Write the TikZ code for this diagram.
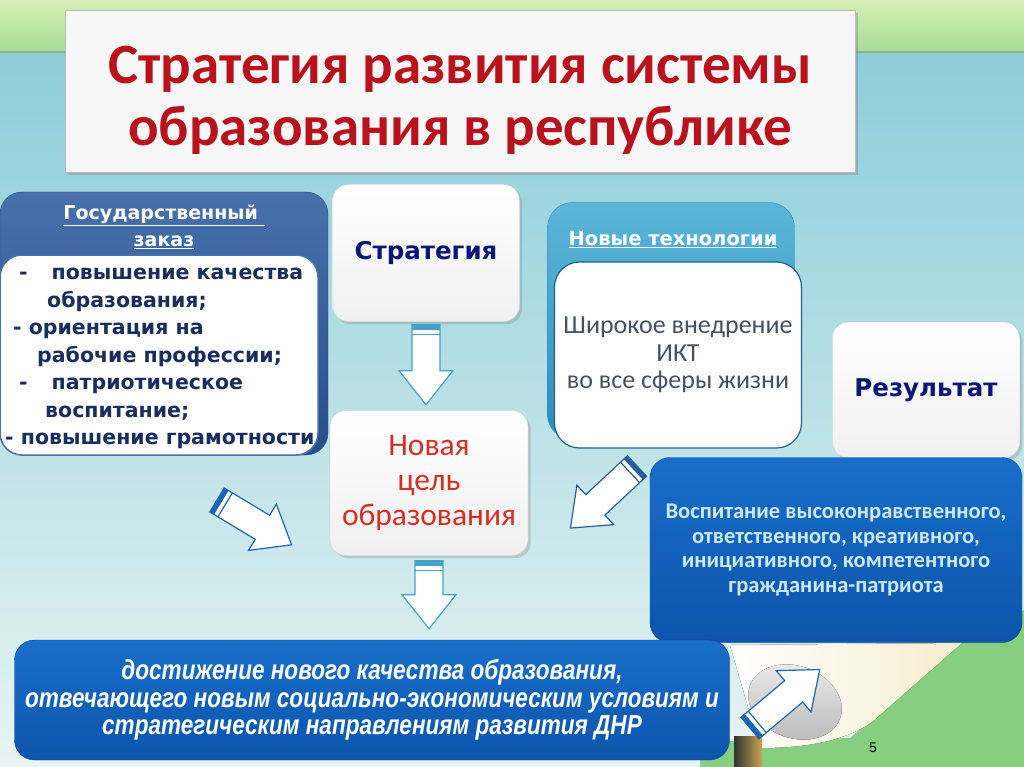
\documentclass[tikz,border=0pt]{standalone}
\usepackage{tikz}
\usepackage{xcolor}
\usepackage{fontspec}
\usetikzlibrary{shadows,positioning}

\setmainfont{DejaVu Sans}
\newfontfamily\calfont{Carlito}
\newfontfamily\narrowfont{Liberation Sans}[FakeStretch=0.82]
\newfontfamily\arfont{Liberation Sans}

\definecolor{titlered}{RGB}{185,18,28}
\definecolor{navy}{RGB}{12,22,120}
\definecolor{listnavy}{RGB}{25,45,95}
\definecolor{goalred}{RGB}{215,45,35}
\definecolor{slate}{RGB}{70,80,100}
\definecolor{paleblue}{RGB}{205,232,246}
\definecolor{boxblue}{RGB}{24,110,200}
\definecolor{boxbluedark}{RGB}{12,84,172}
\definecolor{orderblue}{RGB}{72,112,170}
\definecolor{orderbluedark}{RGB}{40,78,138}
\definecolor{techblue}{RGB}{92,182,216}
\definecolor{techbluedark}{RGB}{45,140,192}
\definecolor{arrowteal}{RGB}{70,160,200}
\definecolor{arrowblue}{RGB}{28,100,178}
\definecolor{skytop}{RGB}{140,205,218}
\definecolor{skybottom}{RGB}{232,244,242}
\definecolor{leaf}{RGB}{134,206,128}
\definecolor{leaflight}{RGB}{214,240,180}
\definecolor{parchment}{RGB}{246,236,205}
\definecolor{rodgold}{RGB}{200,165,80}

\tikzset{
  whitebox/.style={rectangle, rounded corners=16pt, draw=gray!35, top color=white, bottom color=gray!12,
    drop shadow={opacity=0.3}, align=center},
  bluebox/.style={rectangle, rounded corners=20pt, draw=boxbluedark!80!black, top color=boxblue,
    bottom color=boxbluedark, align=center},
  blockarrow/.pic={
    \filldraw[fill=white, line width=1.2pt] (0,-14) -- (#1-34,-14) -- (#1-34,-27) -- (#1,0)
      -- (#1-34,27) -- (#1-34,14) -- (0,14) -- cycle;
    \fill (0,-14) rectangle (5,14);
    \draw[line width=1.2pt] (9.5,-14) -- (9.5,14);
  }
}

\begin{document}
\begin{tikzpicture}[x=1pt,y=-1pt]
  \useasboundingbox (0,0) rectangle (1024,767);

  % background
  \fill[top color=skytop, bottom color=skybottom] (0,50) rectangle (1024,767);
  \fill[top color=leaflight, bottom color=leaf!60!leaflight] (0,0) rectangle (1024,52);
  \draw[leaf!70!black!70, line width=1.5pt] (0,52) -- (1024,52);
  \fill[leaf] (700,767) -- (700,742) -- (850,738) -- (962,643) -- (1024,610) -- (1024,767) -- cycle;
  % rolled paper
  \fill[left color=white, right color=parchment] (730,645) -- (962,643) -- (872,722)
    .. controls (840,745) and (790,748) .. (760,748) -- cycle;
  \fill[top color=gray!15, bottom color=gray!55, rotate around={-20:(795,702)}] (795,702) ellipse (48 and 36);
  \fill[left color=black!80, right color=rodgold] (734,736) rectangle (762,767);

  % title
  \node[rectangle, draw=gray!55, fill=gray!6, drop shadow={opacity=0.4},
    minimum width=790pt, minimum height=162pt] (title) at (460,91) {};
  \node[align=center, text=titlered, font=\calfont\bfseries\fontsize{57}{62}\selectfont]
    (titletext) at (460,100) {Стратегия развития системы\\образования в республике};

  % state order
  \node[rectangle, rounded corners=22pt, draw=orderbluedark, top color=orderblue, bottom color=orderbluedark,
    minimum width=328pt, minimum height=263pt] (order) at (164,323.5) {};
  \node[text=white, align=center, font=\bfseries\fontsize{19}{27}\selectfont] (orderhead) at (164,227)
    {\underline{Государственный\ }\\\underline{заказ}};
  \node[rectangle, rounded corners=22pt, draw=orderblue, line width=1.5pt, fill=white,
    minimum width=318pt, minimum height=200pt] (orderlist) at (159,355) {};
  \node[anchor=north west, align=left, text=listnavy, font=\bfseries\fontsize{20.5}{27.5}\selectfont,
    inner sep=0pt] (ordertext) at (5,268)
    {\hspace*{14pt}-\hspace{24pt}повышение качества\\
     \hspace*{42pt}образования;\\
     \hspace*{8pt}- ориентация на\\
     \hspace*{32pt}рабочие профессии;\\
     \hspace*{14pt}-\hspace{24pt}патриотическое\\
     \hspace*{40pt}воспитание;\\
     - повышение грамотности};

  % strategy
  \node[whitebox, minimum width=187pt, minimum height=137pt, text=navy,
    font=\bfseries\fontsize{24.5}{28}\selectfont] (strat) at (426,253) {Стратегия};

  % new goal
  \node[whitebox, minimum width=198pt, minimum height=145pt, text=goalred,
    font=\calfont\fontsize{31.5}{35}\selectfont] (goal) at (429,483) {Новая\\цель\\образования};

  % new technologies
  \node[rectangle, rounded corners=25pt, draw=techbluedark, top color=techblue, bottom color=techbluedark,
    minimum width=247pt, minimum height=237pt] (tech) at (671,321) {};
  \node[text=white, font=\bfseries\fontsize{19.5}{20}\selectfont] (techhead) at (673,240)
    {\underline{Новые технологии}};
  \node[rectangle, rounded corners=25pt, draw=techbluedark!70!black, line width=1.2pt, fill=white,
    minimum width=247pt, minimum height=186pt, text=slate, align=center,
    font=\calfont\fontsize{26}{27.5}\selectfont] (techtext) at (678,355)
    {Широкое внедрение\\ИКТ\\во все сферы жизни};

  % result
  \node[whitebox, minimum width=187pt, minimum height=136pt, text=navy,
    font=\bfseries\fontsize{24.5}{28}\selectfont] (result) at (926,390) {Результат};
  \node[bluebox, minimum width=372pt, minimum height=185pt, text=paleblue,
    font=\calfont\bfseries\fontsize{22.5}{24.5}\selectfont] (citizen) at (836,550)
    {Воспитание высоконравственного,\\ответственного, креативного,\\инициативного, компетентного\\гражданина-патриота};

  % final aim
  \node[bluebox, minimum width=715pt, minimum height=120pt, text=white,
    font=\narrowfont\bfseries\itshape\fontsize{27.5}{27.5}\selectfont] (final) at (372,700)
    {достижение нового качества образования,\\отвечающего новым социально-экономическим условиям и\\стратегическим направлениям развития ДНР};

  % arrows
  \pic[arrowteal, rotate=-90] (down1) at ([yshift=-3pt]strat.south) {blockarrow=80};
  \pic[arrowteal, rotate=-90] (down2) at ([yshift=-5pt]goal.south) {blockarrow=68};
  \pic[arrowblue, rotate=-31] (diag1) at (217,500) {blockarrow=87};
  \pic[arrowblue!70!slate, rotate=-137] (diag2) at (637,466) {blockarrow=91};
  \pic[arrowblue, rotate=40] (diag3) at (750,728) {blockarrow=91};

  % page number
  \node[font=\arfont\fontsize{14}{16}\selectfont] (pagenum) at (873,748) {5};
\end{tikzpicture}
\end{document}
